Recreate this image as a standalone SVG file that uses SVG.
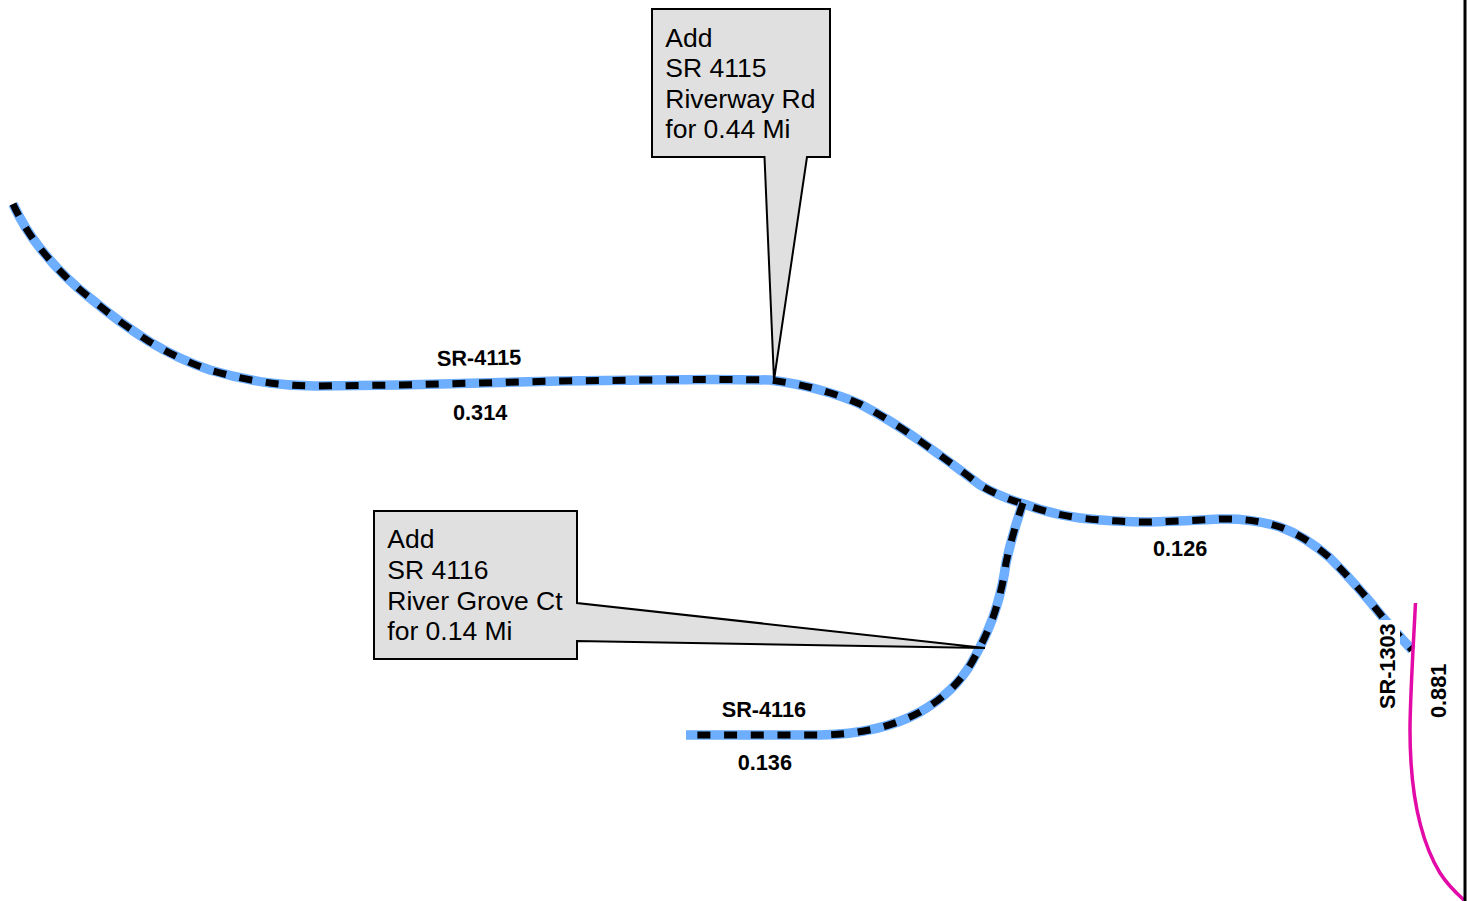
<svg xmlns="http://www.w3.org/2000/svg" width="1470" height="901" viewBox="0 0 1470 901">
<style>
.blue{fill:none;stroke:#6eaeff;stroke-width:9.5}
.dash{fill:none;stroke:#000;stroke-width:7;stroke-dasharray:13 13.7}
.call{fill:#e0e0e0;stroke:#000;stroke-width:2}
.t{font-family:"Liberation Sans",Arial,sans-serif;font-size:26.5px;fill:#000}
.l{font-family:"Liberation Sans",Arial,sans-serif;font-size:21.7px;font-weight:bold;fill:#000}
</style>
<rect width="1470" height="901" fill="#fff"/>
<g id="connectors">
<path id="sr4115-base" class="blue" d="M13,204 Q24,228 40,248 Q62,276 90,298 Q120,323 150,342 Q180,360 210,370 Q240,379 270,383 Q292,386 315,386 L400,385 L480,383 L560,381 L650,380 Q715,379 770,380 Q800,384 820,390 Q842,396 860,404 Q892,421 920,441 Q950,462 980,485 Q1000,497 1024,504 Q1050,514 1080,518 Q1115,522 1150,522 Q1185,521 1220,519 Q1252,518 1280,527 Q1305,536 1330,558 Q1358,586 1385,620 L1412,650"/>
<path id="sr4115-dash" class="dash" d="M13,204 Q24,228 40,248 Q62,276 90,298 Q120,323 150,342 Q180,360 210,370 Q240,379 270,383 Q292,386 315,386 L400,385 L480,383 L560,381 L650,380 Q715,379 770,380 Q800,384 820,390 Q842,396 860,404 Q892,421 920,441 Q950,462 980,485 Q1000,497 1024,504 Q1050,514 1080,518 Q1115,522 1150,522 Q1185,521 1220,519 Q1252,518 1280,527 Q1305,536 1330,558 Q1358,586 1385,620 L1412,650"/>
<path id="sr4116-base" class="blue" d="M686,735 L820,735 Q880,734 920,712 Q955,692 972,662 Q990,630 997,605 Q1003,585 1006,563 Q1012,535 1023,503"/>
<path id="sr4116-dash" class="dash" d="M1023,503 Q1012,535 1006,563 Q1003,585 997,605 Q990,630 972,662 Q955,692 920,712 Q880,734 820,735 L686,735"/>
<path id="sr1303" fill="none" stroke="#e30ba8" stroke-width="3.5" d="M1415.5,603 L1413,650 C1411,690 1410,710 1410,730 C1410,790 1420,840 1440,873 C1447,884 1455,892 1464,900"/>
<path id="border" fill="none" stroke="#000" stroke-width="3" d="M1465,0 V901"/>
</g>
<g id="callout-4115">
<path class="call" d="M652,9 H830 V157 H807 L774,380 L764.500,157 H652 Z"/>
<text class="t" x="665.300" y="47">Add</text>
<text class="t" x="665.300" y="77">SR 4115</text>
<text class="t" x="665.300" y="108">Riverway Rd</text>
<text class="t" x="665.300" y="138">for 0.44 Mi</text>
</g>
<g id="callout-4116">
<path class="call" d="M374,511 H577 V603 L985,648 L577,641 V659 H374 Z"/>
<text class="t" x="387.300" y="548">Add</text>
<text class="t" x="387.300" y="579">SR 4116</text>
<text class="t" x="387.300" y="610">River Grove Ct</text>
<text class="t" x="387.300" y="640">for 0.14 Mi</text>
</g>
<g id="label-sr4115"><text class="l" x="437" y="366" transform="rotate(-1 437 366)">SR-4115</text></g>
<g id="label-0314"><text class="l" x="453" y="420">0.314</text></g>
<g id="label-0126"><text class="l" x="1153" y="556">0.126</text></g>
<g id="label-sr4116"><text class="l" x="721.700" y="717">SR-4116</text></g>
<g id="label-0136"><text class="l" x="737.700" y="770">0.136</text></g>
<g id="label-sr1303"><rect x="1377" y="620" width="23" height="90" fill="#fff"/><text class="l" x="1395" y="709" transform="rotate(-90 1395 709)">SR-1303</text></g>
<g id="label-0881"><text class="l" x="1446" y="718" transform="rotate(-90 1446 718)">0.881</text></g>
</svg>
